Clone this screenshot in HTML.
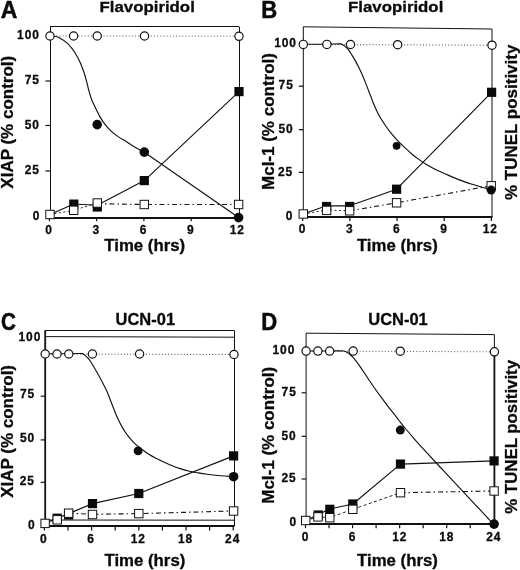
<!DOCTYPE html>
<html><head><meta charset="utf-8"><title>Figure</title>
<style>
html,body{margin:0;padding:0;background:#fff;}
body{width:520px;height:570px;overflow:hidden;}
svg{display:block;will-change:transform;}
svg text{font-family:'Liberation Sans', sans-serif;fill:#0a0a0a;}
</style></head>
<body>
<svg width="520" height="570" viewBox="0 0 520 570">
<line x1="50.00" y1="26.50" x2="239.00" y2="26.50" stroke="#111" stroke-width="1" stroke-linecap="butt"/>
<line x1="50.50" y1="26.70" x2="50.50" y2="217.50" stroke="#111" stroke-width="1" stroke-linecap="butt"/>
<line x1="239.50" y1="26.70" x2="239.50" y2="217.50" stroke="#111" stroke-width="1" stroke-linecap="butt"/>
<line x1="49.50" y1="218.00" x2="239.50" y2="218.00" stroke="#111" stroke-width="2" stroke-linecap="butt"/>
<line x1="45.50" y1="81.00" x2="50.00" y2="81.00" stroke="#111" stroke-width="1.2" stroke-linecap="butt"/>
<line x1="45.50" y1="125.50" x2="50.00" y2="125.50" stroke="#111" stroke-width="1.2" stroke-linecap="butt"/>
<line x1="45.50" y1="171.00" x2="50.00" y2="171.00" stroke="#111" stroke-width="1.2" stroke-linecap="butt"/>
<line x1="49.40" y1="217.50" x2="49.40" y2="221.20" stroke="#111" stroke-width="1.2" stroke-linecap="butt"/>
<line x1="96.65" y1="217.50" x2="96.65" y2="221.20" stroke="#111" stroke-width="1.2" stroke-linecap="butt"/>
<line x1="143.90" y1="217.50" x2="143.90" y2="221.20" stroke="#111" stroke-width="1.2" stroke-linecap="butt"/>
<line x1="191.15" y1="217.50" x2="191.15" y2="221.20" stroke="#111" stroke-width="1.2" stroke-linecap="butt"/>
<line x1="238.40" y1="217.50" x2="238.40" y2="221.20" stroke="#111" stroke-width="1.2" stroke-linecap="butt"/>
<line x1="50.00" y1="36.00" x2="239.00" y2="36.20" stroke="#555" stroke-width="1" stroke-dasharray="1 2.15" stroke-linecap="butt"/>
<path d="M50.20,36.00 C50.97,36.05 53.13,35.93 54.80,36.30 C56.47,36.67 58.18,37.10 60.20,38.20 C62.22,39.30 64.88,41.12 66.90,42.90 C68.92,44.68 70.73,46.88 72.30,48.90 C73.87,50.92 74.95,52.63 76.30,55.00 C77.65,57.37 79.05,59.97 80.40,63.10 C81.75,66.23 83.28,70.43 84.40,73.80 C85.52,77.17 86.38,80.60 87.10,83.30 C87.82,86.00 87.97,87.35 88.70,90.00 C89.43,92.65 90.38,96.25 91.50,99.20 C92.62,102.15 93.98,104.75 95.40,107.70 C96.82,110.65 98.47,114.22 100.00,116.90 C101.53,119.58 102.80,121.48 104.60,123.80 C106.40,126.12 108.48,128.62 110.80,130.80 C113.12,132.98 115.93,135.12 118.50,136.90 C121.07,138.68 123.65,139.88 126.20,141.50 C128.75,143.12 131.25,145.05 133.80,146.60 C136.35,148.15 139.72,149.85 141.50,150.80 C143.28,151.75 144.00,152.05 144.50,152.30" fill="none" stroke="#111" stroke-width="1.15"/>
<line x1="144.30" y1="152.20" x2="238.60" y2="217.50" stroke="#111" stroke-width="1.15" stroke-linecap="butt"/>
<polyline points="50.00,214.50 73.80,204.00 97.30,205.30 144.30,180.60 239.00,91.60" fill="none" stroke="#111" stroke-width="1.15" stroke-linejoin="round"/>
<polyline points="50.00,214.50 73.70,210.30 97.30,203.00" fill="none" stroke="#222" stroke-width="1" stroke-dasharray="2 2.5" stroke-linejoin="round"/>
<polyline points="97.00,203.70 144.30,204.50 238.60,204.50" fill="none" stroke="#1a1a1a" stroke-width="1.15" stroke-dasharray="5 3 1.5 3" stroke-linejoin="round"/>
<rect x="69.20" y="199.50" width="9.2" height="9.2" fill="#0a0a0a"/>
<rect x="69.50" y="206.10" width="8.4" height="8.4" fill="#fff" stroke="#111" stroke-width="1"/>
<rect x="92.70" y="202.40" width="9.2" height="9.2" fill="#0a0a0a"/>
<rect x="93.10" y="198.80" width="8.4" height="8.4" fill="#fff" stroke="#111" stroke-width="1"/>
<circle cx="97.20" cy="124.60" r="4.8" fill="#0a0a0a"/>
<circle cx="144.30" cy="152.10" r="4.8" fill="#0a0a0a"/>
<rect x="139.70" y="176.00" width="9.2" height="9.2" fill="#0a0a0a"/>
<rect x="140.10" y="200.30" width="8.4" height="8.4" fill="#fff" stroke="#111" stroke-width="1"/>
<rect x="234.40" y="87.00" width="9.2" height="9.2" fill="#0a0a0a"/>
<circle cx="238.60" cy="217.60" r="4.8" fill="#0a0a0a"/>
<rect x="234.40" y="200.30" width="8.4" height="8.4" fill="#fff" stroke="#111" stroke-width="1"/>
<rect x="45.80" y="210.30" width="8.4" height="8.4" fill="#fff" stroke="#111" stroke-width="1"/>
<circle cx="50.00" cy="36.00" r="4.15" fill="#fff" stroke="#111" stroke-width="1.2"/>
<circle cx="73.62" cy="36.00" r="4.15" fill="#fff" stroke="#111" stroke-width="1.2"/>
<circle cx="97.25" cy="36.00" r="4.15" fill="#fff" stroke="#111" stroke-width="1.2"/>
<circle cx="144.50" cy="36.00" r="4.15" fill="#fff" stroke="#111" stroke-width="1.2"/>
<circle cx="239.00" cy="36.30" r="4.15" fill="#fff" stroke="#111" stroke-width="1.2"/>
<text transform="translate(39.82,38.60) scale(0.92,1)" font-size="13" font-weight="bold" text-anchor="end" letter-spacing="1.0" stroke="#0a0a0a" stroke-width="0.3" stroke-linejoin="round">100</text>
<text transform="translate(39.82,84.00) scale(0.92,1)" font-size="13" font-weight="bold" text-anchor="end" letter-spacing="1.0" stroke="#0a0a0a" stroke-width="0.3" stroke-linejoin="round">75</text>
<text transform="translate(39.82,129.30) scale(0.92,1)" font-size="13" font-weight="bold" text-anchor="end" letter-spacing="1.0" stroke="#0a0a0a" stroke-width="0.3" stroke-linejoin="round">50</text>
<text transform="translate(39.82,174.40) scale(0.92,1)" font-size="13" font-weight="bold" text-anchor="end" letter-spacing="1.0" stroke="#0a0a0a" stroke-width="0.3" stroke-linejoin="round">25</text>
<text transform="translate(40.22,220.20) scale(0.92,1)" font-size="13" font-weight="bold" text-anchor="end" letter-spacing="1.0" stroke="#0a0a0a" stroke-width="0.3" stroke-linejoin="round">0</text>
<text transform="translate(48.96,233.70) scale(0.92,1)" font-size="13" font-weight="bold" text-anchor="middle" letter-spacing="1.0" stroke="#0a0a0a" stroke-width="0.3" stroke-linejoin="round">0</text>
<text transform="translate(96.21,233.70) scale(0.92,1)" font-size="13" font-weight="bold" text-anchor="middle" letter-spacing="1.0" stroke="#0a0a0a" stroke-width="0.3" stroke-linejoin="round">3</text>
<text transform="translate(143.46,233.70) scale(0.92,1)" font-size="13" font-weight="bold" text-anchor="middle" letter-spacing="1.0" stroke="#0a0a0a" stroke-width="0.3" stroke-linejoin="round">6</text>
<text transform="translate(190.71,233.70) scale(0.92,1)" font-size="13" font-weight="bold" text-anchor="middle" letter-spacing="1.0" stroke="#0a0a0a" stroke-width="0.3" stroke-linejoin="round">9</text>
<text transform="translate(237.36,233.70) scale(0.92,1)" font-size="13" font-weight="bold" text-anchor="middle" letter-spacing="1.0" stroke="#0a0a0a" stroke-width="0.3" stroke-linejoin="round">12</text>
<text transform="translate(144.70,250.60) scale(1.07,1)" font-size="15.7" font-weight="bold" text-anchor="middle" stroke="#0a0a0a" stroke-width="0.3" stroke-linejoin="round">Time (hrs)</text>
<text transform="translate(147.20,12.40) scale(1.085,1)" font-size="15.5" font-weight="bold" text-anchor="middle" stroke="#0a0a0a" stroke-width="0.3" stroke-linejoin="round">Flavopiridol</text>
<text transform="translate(0.80,18.40) scale(1.0,1)" font-size="23" font-weight="bold" text-anchor="start" stroke="#0a0a0a" stroke-width="0.5" stroke-linejoin="round">A</text>
<text transform="translate(13.20,122.20) rotate(-90) scale(1.0,1)" font-size="17" font-weight="bold" text-anchor="middle" stroke="#0a0a0a" stroke-width="0.3" stroke-linejoin="round">XIAP (% control)</text>
<polyline points="303.3,217.3 303.3,26.8 492.0,29.0 492.0,217.3" fill="none" stroke="#111" stroke-width="1"/>
<line x1="302.80" y1="217.00" x2="492.50" y2="217.00" stroke="#111" stroke-width="2" stroke-linecap="butt"/>
<line x1="298.80" y1="86.20" x2="303.30" y2="86.20" stroke="#111" stroke-width="1.2" stroke-linecap="butt"/>
<line x1="298.80" y1="129.70" x2="303.30" y2="129.70" stroke="#111" stroke-width="1.2" stroke-linecap="butt"/>
<line x1="298.80" y1="172.40" x2="303.30" y2="172.40" stroke="#111" stroke-width="1.2" stroke-linecap="butt"/>
<line x1="302.70" y1="217.30" x2="302.70" y2="221.00" stroke="#111" stroke-width="1.2" stroke-linecap="butt"/>
<line x1="349.88" y1="217.30" x2="349.88" y2="221.00" stroke="#111" stroke-width="1.2" stroke-linecap="butt"/>
<line x1="397.05" y1="217.30" x2="397.05" y2="221.00" stroke="#111" stroke-width="1.2" stroke-linecap="butt"/>
<line x1="444.23" y1="217.30" x2="444.23" y2="221.00" stroke="#111" stroke-width="1.2" stroke-linecap="butt"/>
<line x1="491.40" y1="217.30" x2="491.40" y2="221.00" stroke="#111" stroke-width="1.2" stroke-linecap="butt"/>
<line x1="303.30" y1="44.50" x2="492.00" y2="45.20" stroke="#444" stroke-width="1" stroke-dasharray="1 2.15" stroke-linecap="butt"/>
<path d="M303.40,44.30 C306.17,44.28 314.73,44.25 320.00,44.20 C325.27,44.15 331.60,44.05 335.00,44.00 C338.40,43.95 339.05,43.72 340.40,43.90 C341.75,44.08 342.20,44.57 343.10,45.10 C344.00,45.63 344.90,46.32 345.80,47.10 C346.70,47.88 347.50,48.50 348.50,49.80 C349.50,51.10 350.68,53.10 351.80,54.90 C352.92,56.70 354.07,58.58 355.20,60.60 C356.33,62.62 357.48,64.77 358.60,67.00 C359.72,69.23 360.78,71.48 361.90,74.00 C363.02,76.52 364.18,79.30 365.30,82.10 C366.42,84.90 367.65,88.35 368.60,90.80 C369.55,93.25 370.22,94.77 371.00,96.80 C371.78,98.83 372.05,100.05 373.30,103.00 C374.55,105.95 376.52,110.80 378.50,114.50 C380.48,118.20 382.97,121.93 385.20,125.20 C387.43,128.47 389.67,131.37 391.90,134.10 C394.13,136.83 396.35,139.25 398.60,141.60 C400.85,143.95 403.15,146.10 405.40,148.20 C407.65,150.30 409.87,152.33 412.10,154.20 C414.33,156.07 416.55,157.77 418.80,159.40 C421.05,161.03 422.90,162.37 425.60,164.00 C428.30,165.63 431.07,167.27 435.00,169.20 C438.93,171.13 444.90,173.73 449.20,175.60 C453.50,177.47 456.95,178.95 460.80,180.40 C464.65,181.85 468.47,183.07 472.30,184.30 C476.13,185.53 480.68,186.88 483.80,187.80 C486.92,188.72 489.80,189.47 491.00,189.80" fill="none" stroke="#111" stroke-width="1.15"/>
<polyline points="303.30,214.00 326.50,205.80 349.60,205.80 396.60,189.20 491.60,92.30" fill="none" stroke="#111" stroke-width="1.15" stroke-linejoin="round"/>
<polyline points="303.30,214.00 326.50,210.00 349.60,210.80" fill="none" stroke="#222" stroke-width="1" stroke-dasharray="2 2.5" stroke-linejoin="round"/>
<polyline points="349.60,210.80 396.60,202.80 491.20,185.70" fill="none" stroke="#1a1a1a" stroke-width="1.15" stroke-dasharray="5 3 1.5 3" stroke-linejoin="round"/>
<rect x="322.00" y="201.90" width="9.2" height="9.2" fill="#0a0a0a"/>
<rect x="322.40" y="206.20" width="8.4" height="8.4" fill="#fff" stroke="#111" stroke-width="1"/>
<rect x="345.00" y="201.90" width="9.2" height="9.2" fill="#0a0a0a"/>
<rect x="345.40" y="206.60" width="8.4" height="8.4" fill="#fff" stroke="#111" stroke-width="1"/>
<circle cx="396.60" cy="145.80" r="3.9" fill="#0a0a0a"/>
<rect x="392.00" y="184.60" width="9.2" height="9.2" fill="#0a0a0a"/>
<rect x="392.40" y="198.60" width="8.4" height="8.4" fill="#fff" stroke="#111" stroke-width="1"/>
<rect x="487.00" y="87.70" width="9.2" height="9.2" fill="#0a0a0a"/>
<rect x="487.00" y="181.60" width="8.4" height="8.4" fill="#fff" stroke="#111" stroke-width="1"/>
<circle cx="491.20" cy="190.10" r="4.5" fill="#0a0a0a"/>
<rect x="299.10" y="209.80" width="8.4" height="8.4" fill="#fff" stroke="#111" stroke-width="1"/>
<circle cx="303.30" cy="44.40" r="4.15" fill="#fff" stroke="#111" stroke-width="1.2"/>
<circle cx="326.89" cy="44.40" r="4.15" fill="#fff" stroke="#111" stroke-width="1.2"/>
<circle cx="350.48" cy="44.50" r="4.15" fill="#fff" stroke="#111" stroke-width="1.2"/>
<circle cx="397.65" cy="44.70" r="4.15" fill="#fff" stroke="#111" stroke-width="1.2"/>
<circle cx="492.00" cy="45.20" r="4.15" fill="#fff" stroke="#111" stroke-width="1.2"/>
<text transform="translate(296.92,47.30) scale(0.92,1)" font-size="13" font-weight="bold" text-anchor="end" letter-spacing="1.0" stroke="#0a0a0a" stroke-width="0.3" stroke-linejoin="round">100</text>
<text transform="translate(293.72,89.10) scale(0.92,1)" font-size="13" font-weight="bold" text-anchor="end" letter-spacing="1.0" stroke="#0a0a0a" stroke-width="0.3" stroke-linejoin="round">75</text>
<text transform="translate(293.52,133.40) scale(0.92,1)" font-size="13" font-weight="bold" text-anchor="end" letter-spacing="1.0" stroke="#0a0a0a" stroke-width="0.3" stroke-linejoin="round">50</text>
<text transform="translate(293.12,175.90) scale(0.92,1)" font-size="13" font-weight="bold" text-anchor="end" letter-spacing="1.0" stroke="#0a0a0a" stroke-width="0.3" stroke-linejoin="round">25</text>
<text transform="translate(293.42,219.60) scale(0.92,1)" font-size="13" font-weight="bold" text-anchor="end" letter-spacing="1.0" stroke="#0a0a0a" stroke-width="0.3" stroke-linejoin="round">0</text>
<text transform="translate(302.56,233.40) scale(0.92,1)" font-size="13" font-weight="bold" text-anchor="middle" letter-spacing="1.0" stroke="#0a0a0a" stroke-width="0.3" stroke-linejoin="round">0</text>
<text transform="translate(349.74,233.40) scale(0.92,1)" font-size="13" font-weight="bold" text-anchor="middle" letter-spacing="1.0" stroke="#0a0a0a" stroke-width="0.3" stroke-linejoin="round">3</text>
<text transform="translate(396.91,233.40) scale(0.92,1)" font-size="13" font-weight="bold" text-anchor="middle" letter-spacing="1.0" stroke="#0a0a0a" stroke-width="0.3" stroke-linejoin="round">6</text>
<text transform="translate(444.09,233.40) scale(0.92,1)" font-size="13" font-weight="bold" text-anchor="middle" letter-spacing="1.0" stroke="#0a0a0a" stroke-width="0.3" stroke-linejoin="round">9</text>
<text transform="translate(490.26,233.40) scale(0.92,1)" font-size="13" font-weight="bold" text-anchor="middle" letter-spacing="1.0" stroke="#0a0a0a" stroke-width="0.3" stroke-linejoin="round">12</text>
<text transform="translate(397.30,250.60) scale(1.07,1)" font-size="15.7" font-weight="bold" text-anchor="middle" stroke="#0a0a0a" stroke-width="0.3" stroke-linejoin="round">Time (hrs)</text>
<text transform="translate(395.70,12.30) scale(1.085,1)" font-size="15.5" font-weight="bold" text-anchor="middle" stroke="#0a0a0a" stroke-width="0.3" stroke-linejoin="round">Flavopiridol</text>
<text transform="translate(261.30,18.40) scale(0.96,1)" font-size="23" font-weight="bold" text-anchor="start" stroke="#0a0a0a" stroke-width="0.5" stroke-linejoin="round">B</text>
<text transform="translate(274.00,121.50) rotate(-90) scale(1.0,1)" font-size="17" font-weight="bold" text-anchor="middle" stroke="#0a0a0a" stroke-width="0.3" stroke-linejoin="round">Mcl-1 (% control)</text>
<text transform="translate(516.90,122.30) rotate(-90) scale(1.03,1)" font-size="16.5" font-weight="bold" text-anchor="middle" stroke="#0a0a0a" stroke-width="0.3" stroke-linejoin="round">% TUNEL positivity</text>
<line x1="45.20" y1="330.50" x2="234.00" y2="330.50" stroke="#111" stroke-width="1" stroke-linecap="butt"/>
<line x1="45.20" y1="330.30" x2="45.20" y2="526.00" stroke="#111" stroke-width="1.8" stroke-linecap="butt"/>
<line x1="234.50" y1="330.30" x2="234.50" y2="526.00" stroke="#111" stroke-width="1" stroke-linecap="butt"/>
<line x1="44.70" y1="526.00" x2="234.50" y2="526.00" stroke="#111" stroke-width="2" stroke-linecap="butt"/>
<line x1="45.20" y1="336.60" x2="234.00" y2="337.20" stroke="#111" stroke-width="1" stroke-linecap="butt"/>
<line x1="45.20" y1="520.00" x2="234.00" y2="520.20" stroke="#111" stroke-width="1" stroke-linecap="butt"/>
<line x1="40.70" y1="396.20" x2="45.20" y2="396.20" stroke="#111" stroke-width="1.2" stroke-linecap="butt"/>
<line x1="40.70" y1="439.90" x2="45.20" y2="439.90" stroke="#111" stroke-width="1.2" stroke-linecap="butt"/>
<line x1="40.70" y1="482.30" x2="45.20" y2="482.30" stroke="#111" stroke-width="1.2" stroke-linecap="butt"/>
<line x1="44.40" y1="526.00" x2="44.40" y2="530.50" stroke="#111" stroke-width="1.2" stroke-linecap="butt"/>
<line x1="68.00" y1="526.00" x2="68.00" y2="530.50" stroke="#111" stroke-width="1.2" stroke-linecap="butt"/>
<line x1="91.60" y1="526.00" x2="91.60" y2="530.50" stroke="#111" stroke-width="1.2" stroke-linecap="butt"/>
<line x1="115.20" y1="526.00" x2="115.20" y2="530.50" stroke="#111" stroke-width="1.2" stroke-linecap="butt"/>
<line x1="138.80" y1="526.00" x2="138.80" y2="530.50" stroke="#111" stroke-width="1.2" stroke-linecap="butt"/>
<line x1="162.40" y1="526.00" x2="162.40" y2="530.50" stroke="#111" stroke-width="1.2" stroke-linecap="butt"/>
<line x1="186.00" y1="526.00" x2="186.00" y2="530.50" stroke="#111" stroke-width="1.2" stroke-linecap="butt"/>
<line x1="209.60" y1="526.00" x2="209.60" y2="530.50" stroke="#111" stroke-width="1.2" stroke-linecap="butt"/>
<line x1="233.20" y1="526.00" x2="233.20" y2="530.50" stroke="#111" stroke-width="1.2" stroke-linecap="butt"/>
<line x1="45.20" y1="354.00" x2="234.00" y2="354.50" stroke="#444" stroke-width="1" stroke-dasharray="1 2.15" stroke-linecap="butt"/>
<path d="M45.20,353.80 C48.50,353.78 59.37,353.75 65.00,353.70 C70.63,353.65 76.13,353.52 79.00,353.50 C81.87,353.48 81.23,353.33 82.20,353.60 C83.17,353.87 83.83,354.33 84.80,355.10 C85.77,355.87 86.93,356.97 88.00,358.20 C89.07,359.43 89.78,360.28 91.20,362.50 C92.62,364.72 94.75,368.42 96.50,371.50 C98.25,374.58 99.95,377.65 101.70,381.00 C103.45,384.35 105.37,387.93 107.00,391.60 C108.63,395.27 110.13,399.52 111.50,403.00 C112.87,406.48 114.03,409.67 115.20,412.50 C116.37,415.33 117.38,417.65 118.50,420.00 C119.62,422.35 120.78,424.60 121.90,426.60 C123.02,428.60 124.08,430.32 125.20,432.00 C126.32,433.68 127.47,435.27 128.60,436.70 C129.73,438.13 130.87,439.37 132.00,440.60 C133.13,441.83 133.72,442.62 135.40,444.10 C137.08,445.58 139.87,447.82 142.10,449.50 C144.33,451.18 146.55,452.78 148.80,454.20 C151.05,455.62 153.12,456.70 155.60,458.00 C158.08,459.30 160.92,460.70 163.70,462.00 C166.48,463.30 169.42,464.65 172.30,465.80 C175.18,466.95 178.12,468.00 181.00,468.90 C183.88,469.80 186.72,470.53 189.60,471.20 C192.48,471.87 195.42,472.38 198.30,472.90 C201.18,473.42 204.02,473.90 206.90,474.30 C209.78,474.70 211.85,474.95 215.60,475.30 C219.35,475.65 226.42,476.18 229.40,476.40 C232.38,476.62 232.82,476.57 233.50,476.60" fill="none" stroke="#111" stroke-width="1.15"/>
<polyline points="45.20,523.40 57.20,518.20 68.60,513.60 92.50,503.60 138.80,493.50 233.60,455.90" fill="none" stroke="#111" stroke-width="1.15" stroke-linejoin="round"/>
<polyline points="68.60,513.20 92.50,514.30 138.80,513.60 233.60,511.00" fill="none" stroke="#1a1a1a" stroke-width="1.15" stroke-dasharray="5 3 1.5 3" stroke-linejoin="round"/>
<rect x="52.60" y="513.60" width="9.2" height="9.2" fill="#0a0a0a"/>
<rect x="53.00" y="515.60" width="8.4" height="8.4" fill="#fff" stroke="#111" stroke-width="1"/>
<rect x="64.00" y="510.40" width="9.2" height="9.2" fill="#0a0a0a"/>
<rect x="64.40" y="509.00" width="8.4" height="8.4" fill="#fff" stroke="#111" stroke-width="1"/>
<rect x="87.90" y="499.00" width="9.2" height="9.2" fill="#0a0a0a"/>
<rect x="88.30" y="510.30" width="8.4" height="8.4" fill="#fff" stroke="#111" stroke-width="1"/>
<circle cx="138.10" cy="450.90" r="4.4" fill="#0a0a0a"/>
<rect x="134.20" y="488.90" width="9.2" height="9.2" fill="#0a0a0a"/>
<rect x="134.60" y="509.40" width="8.4" height="8.4" fill="#fff" stroke="#111" stroke-width="1"/>
<rect x="229.00" y="451.30" width="9.2" height="9.2" fill="#0a0a0a"/>
<circle cx="233.60" cy="476.70" r="4.8" fill="#0a0a0a"/>
<rect x="229.40" y="506.80" width="8.4" height="8.4" fill="#fff" stroke="#111" stroke-width="1"/>
<rect x="40.90" y="519.20" width="8.4" height="8.4" fill="#fff" stroke="#111" stroke-width="1"/>
<circle cx="45.20" cy="354.00" r="4.15" fill="#fff" stroke="#111" stroke-width="1.2"/>
<circle cx="57.00" cy="354.00" r="4.15" fill="#fff" stroke="#111" stroke-width="1.2"/>
<circle cx="68.80" cy="354.00" r="4.15" fill="#fff" stroke="#111" stroke-width="1.2"/>
<circle cx="92.40" cy="354.00" r="4.15" fill="#fff" stroke="#111" stroke-width="1.2"/>
<circle cx="139.60" cy="354.00" r="4.15" fill="#fff" stroke="#111" stroke-width="1.2"/>
<circle cx="234.00" cy="354.50" r="4.15" fill="#fff" stroke="#111" stroke-width="1.2"/>
<text transform="translate(41.22,341.00) scale(0.92,1)" font-size="13" font-weight="bold" text-anchor="end" letter-spacing="1.0" stroke="#0a0a0a" stroke-width="0.3" stroke-linejoin="round">100</text>
<text transform="translate(35.02,397.90) scale(0.92,1)" font-size="13" font-weight="bold" text-anchor="end" letter-spacing="1.0" stroke="#0a0a0a" stroke-width="0.3" stroke-linejoin="round">75</text>
<text transform="translate(35.02,441.90) scale(0.92,1)" font-size="13" font-weight="bold" text-anchor="end" letter-spacing="1.0" stroke="#0a0a0a" stroke-width="0.3" stroke-linejoin="round">50</text>
<text transform="translate(34.82,484.80) scale(0.92,1)" font-size="13" font-weight="bold" text-anchor="end" letter-spacing="1.0" stroke="#0a0a0a" stroke-width="0.3" stroke-linejoin="round">25</text>
<text transform="translate(35.52,529.00) scale(0.92,1)" font-size="13" font-weight="bold" text-anchor="end" letter-spacing="1.0" stroke="#0a0a0a" stroke-width="0.3" stroke-linejoin="round">0</text>
<text transform="translate(43.86,543.00) scale(0.92,1)" font-size="13" font-weight="bold" text-anchor="middle" letter-spacing="1.0" stroke="#0a0a0a" stroke-width="0.3" stroke-linejoin="round">0</text>
<text transform="translate(91.06,543.00) scale(0.92,1)" font-size="13" font-weight="bold" text-anchor="middle" letter-spacing="1.0" stroke="#0a0a0a" stroke-width="0.3" stroke-linejoin="round">6</text>
<text transform="translate(138.26,543.00) scale(0.92,1)" font-size="13" font-weight="bold" text-anchor="middle" letter-spacing="1.0" stroke="#0a0a0a" stroke-width="0.3" stroke-linejoin="round">12</text>
<text transform="translate(185.46,543.00) scale(0.92,1)" font-size="13" font-weight="bold" text-anchor="middle" letter-spacing="1.0" stroke="#0a0a0a" stroke-width="0.3" stroke-linejoin="round">18</text>
<text transform="translate(232.66,543.00) scale(0.92,1)" font-size="13" font-weight="bold" text-anchor="middle" letter-spacing="1.0" stroke="#0a0a0a" stroke-width="0.3" stroke-linejoin="round">24</text>
<text transform="translate(144.90,565.60) scale(1.07,1)" font-size="15.7" font-weight="bold" text-anchor="middle" stroke="#0a0a0a" stroke-width="0.3" stroke-linejoin="round">Time (hrs)</text>
<text transform="translate(145.30,325.40) scale(0.97,1)" font-size="17" font-weight="bold" text-anchor="middle" stroke="#0a0a0a" stroke-width="0.3" stroke-linejoin="round">UCN-01</text>
<text transform="translate(0.90,329.60) scale(0.9,1)" font-size="23" font-weight="bold" text-anchor="start" stroke="#0a0a0a" stroke-width="0.5" stroke-linejoin="round">C</text>
<text transform="translate(12.90,431.40) rotate(-90) scale(1.0,1)" font-size="17" font-weight="bold" text-anchor="middle" stroke="#0a0a0a" stroke-width="0.3" stroke-linejoin="round">XIAP (% control)</text>
<polyline points="306.1,524.0 306.1,333.2 494.4,334.59999999999997 494.4,352" fill="none" stroke="#111" stroke-width="1"/>
<line x1="494.40" y1="352.00" x2="494.40" y2="524.00" stroke="#111" stroke-width="1.8" stroke-linecap="butt"/>
<line x1="305.60" y1="524.00" x2="494.90" y2="524.00" stroke="#111" stroke-width="2" stroke-linecap="butt"/>
<line x1="301.60" y1="392.80" x2="306.10" y2="392.80" stroke="#111" stroke-width="1.2" stroke-linecap="butt"/>
<line x1="301.60" y1="436.30" x2="306.10" y2="436.30" stroke="#111" stroke-width="1.2" stroke-linecap="butt"/>
<line x1="301.60" y1="479.00" x2="306.10" y2="479.00" stroke="#111" stroke-width="1.2" stroke-linecap="butt"/>
<line x1="305.50" y1="524.00" x2="305.50" y2="528.20" stroke="#111" stroke-width="1.2" stroke-linecap="butt"/>
<line x1="329.04" y1="524.00" x2="329.04" y2="528.20" stroke="#111" stroke-width="1.2" stroke-linecap="butt"/>
<line x1="352.57" y1="524.00" x2="352.57" y2="528.20" stroke="#111" stroke-width="1.2" stroke-linecap="butt"/>
<line x1="376.11" y1="524.00" x2="376.11" y2="528.20" stroke="#111" stroke-width="1.2" stroke-linecap="butt"/>
<line x1="399.65" y1="524.00" x2="399.65" y2="528.20" stroke="#111" stroke-width="1.2" stroke-linecap="butt"/>
<line x1="423.19" y1="524.00" x2="423.19" y2="528.20" stroke="#111" stroke-width="1.2" stroke-linecap="butt"/>
<line x1="446.72" y1="524.00" x2="446.72" y2="528.20" stroke="#111" stroke-width="1.2" stroke-linecap="butt"/>
<line x1="470.26" y1="524.00" x2="470.26" y2="528.20" stroke="#111" stroke-width="1.2" stroke-linecap="butt"/>
<line x1="493.80" y1="524.00" x2="493.80" y2="528.20" stroke="#111" stroke-width="1.2" stroke-linecap="butt"/>
<line x1="306.10" y1="351.10" x2="494.40" y2="351.80" stroke="#555" stroke-width="1" stroke-dasharray="1 2.15" stroke-linecap="butt"/>
<path d="M306.00,351.00 C309.17,351.00 319.67,351.02 325.00,351.00 C330.33,350.98 334.90,350.90 338.00,350.90 C341.10,350.90 341.90,350.67 343.60,351.00 C345.30,351.33 346.78,352.00 348.20,352.90 C349.62,353.80 350.78,355.03 352.10,356.40 C353.42,357.77 354.57,359.12 356.10,361.10 C357.63,363.08 359.33,365.45 361.30,368.30 C363.27,371.15 365.70,374.92 367.90,378.20 C370.10,381.48 372.30,384.83 374.50,388.00 C376.70,391.17 378.92,394.23 381.10,397.20 C383.28,400.17 385.42,402.97 387.60,405.80 C389.78,408.63 392.30,411.75 394.20,414.20 C396.10,416.65 397.33,418.37 399.00,420.50 C400.67,422.63 401.73,424.03 404.20,427.00 C406.67,429.97 410.58,434.60 413.80,438.30 C417.02,442.00 419.13,444.42 423.50,449.20 C427.87,453.98 433.92,460.48 440.00,467.00 C446.08,473.52 451.08,478.78 460.00,488.30 C468.92,497.82 487.92,518.13 493.50,524.10" fill="none" stroke="#111" stroke-width="1.15"/>
<polyline points="305.80,520.60 318.20,514.50 329.80,509.00 352.80,504.00 400.50,464.10 494.10,460.90" fill="none" stroke="#111" stroke-width="1.15" stroke-linejoin="round"/>
<polyline points="305.80,520.60 318.00,516.90 329.80,517.70 352.80,509.30 400.50,492.70" fill="none" stroke="#222" stroke-width="1" stroke-dasharray="3 2.5" stroke-linejoin="round"/>
<polyline points="400.50,492.70 494.10,491.00" fill="none" stroke="#1a1a1a" stroke-width="1.15" stroke-dasharray="5 3 1.5 3" stroke-linejoin="round"/>
<rect x="313.60" y="510.40" width="9.2" height="9.2" fill="#0a0a0a"/>
<rect x="313.80" y="512.70" width="8.4" height="8.4" fill="#fff" stroke="#111" stroke-width="1"/>
<rect x="325.20" y="504.70" width="9.2" height="9.2" fill="#0a0a0a"/>
<rect x="325.60" y="513.50" width="8.4" height="8.4" fill="#fff" stroke="#111" stroke-width="1"/>
<rect x="348.20" y="499.40" width="9.2" height="9.2" fill="#0a0a0a"/>
<rect x="348.60" y="505.10" width="8.4" height="8.4" fill="#fff" stroke="#111" stroke-width="1"/>
<circle cx="400.30" cy="430.10" r="4.5" fill="#0a0a0a"/>
<rect x="395.90" y="459.50" width="9.2" height="9.2" fill="#0a0a0a"/>
<rect x="396.30" y="488.50" width="8.4" height="8.4" fill="#fff" stroke="#111" stroke-width="1"/>
<rect x="489.50" y="456.30" width="9.2" height="9.2" fill="#0a0a0a"/>
<rect x="489.90" y="486.80" width="8.4" height="8.4" fill="#fff" stroke="#111" stroke-width="1"/>
<circle cx="494.10" cy="524.10" r="4.8" fill="#0a0a0a"/>
<rect x="301.50" y="516.30" width="8.4" height="8.4" fill="#fff" stroke="#111" stroke-width="1"/>
<circle cx="306.10" cy="351.10" r="4.15" fill="#fff" stroke="#111" stroke-width="1.2"/>
<circle cx="317.87" cy="351.10" r="4.15" fill="#fff" stroke="#111" stroke-width="1.2"/>
<circle cx="329.64" cy="351.10" r="4.15" fill="#fff" stroke="#111" stroke-width="1.2"/>
<circle cx="353.18" cy="351.10" r="4.15" fill="#fff" stroke="#111" stroke-width="1.2"/>
<circle cx="400.25" cy="351.20" r="4.15" fill="#fff" stroke="#111" stroke-width="1.2"/>
<circle cx="494.40" cy="351.80" r="4.15" fill="#fff" stroke="#111" stroke-width="1.2"/>
<text transform="translate(295.22,353.50) scale(0.92,1)" font-size="13" font-weight="bold" text-anchor="end" letter-spacing="1.0" stroke="#0a0a0a" stroke-width="0.3" stroke-linejoin="round">100</text>
<text transform="translate(296.72,396.00) scale(0.92,1)" font-size="13" font-weight="bold" text-anchor="end" letter-spacing="1.0" stroke="#0a0a0a" stroke-width="0.3" stroke-linejoin="round">75</text>
<text transform="translate(296.52,439.60) scale(0.92,1)" font-size="13" font-weight="bold" text-anchor="end" letter-spacing="1.0" stroke="#0a0a0a" stroke-width="0.3" stroke-linejoin="round">50</text>
<text transform="translate(296.52,482.40) scale(0.92,1)" font-size="13" font-weight="bold" text-anchor="end" letter-spacing="1.0" stroke="#0a0a0a" stroke-width="0.3" stroke-linejoin="round">25</text>
<text transform="translate(297.12,526.40) scale(0.92,1)" font-size="13" font-weight="bold" text-anchor="end" letter-spacing="1.0" stroke="#0a0a0a" stroke-width="0.3" stroke-linejoin="round">0</text>
<text transform="translate(305.56,540.80) scale(0.92,1)" font-size="13" font-weight="bold" text-anchor="middle" letter-spacing="1.0" stroke="#0a0a0a" stroke-width="0.3" stroke-linejoin="round">0</text>
<text transform="translate(352.63,540.80) scale(0.92,1)" font-size="13" font-weight="bold" text-anchor="middle" letter-spacing="1.0" stroke="#0a0a0a" stroke-width="0.3" stroke-linejoin="round">6</text>
<text transform="translate(399.71,540.80) scale(0.92,1)" font-size="13" font-weight="bold" text-anchor="middle" letter-spacing="1.0" stroke="#0a0a0a" stroke-width="0.3" stroke-linejoin="round">12</text>
<text transform="translate(446.78,540.80) scale(0.92,1)" font-size="13" font-weight="bold" text-anchor="middle" letter-spacing="1.0" stroke="#0a0a0a" stroke-width="0.3" stroke-linejoin="round">18</text>
<text transform="translate(493.86,540.80) scale(0.92,1)" font-size="13" font-weight="bold" text-anchor="middle" letter-spacing="1.0" stroke="#0a0a0a" stroke-width="0.3" stroke-linejoin="round">24</text>
<text transform="translate(397.50,565.60) scale(1.07,1)" font-size="15.7" font-weight="bold" text-anchor="middle" stroke="#0a0a0a" stroke-width="0.3" stroke-linejoin="round">Time (hrs)</text>
<text transform="translate(398.00,324.80) scale(0.97,1)" font-size="17" font-weight="bold" text-anchor="middle" stroke="#0a0a0a" stroke-width="0.3" stroke-linejoin="round">UCN-01</text>
<text transform="translate(261.20,329.50) scale(0.96,1)" font-size="23" font-weight="bold" text-anchor="start" stroke="#0a0a0a" stroke-width="0.5" stroke-linejoin="round">D</text>
<text transform="translate(273.80,435.30) rotate(-90) scale(1.0,1)" font-size="17" font-weight="bold" text-anchor="middle" stroke="#0a0a0a" stroke-width="0.3" stroke-linejoin="round">Mcl-1 (% control)</text>
<text transform="translate(516.80,436.80) rotate(-90) scale(1.019,1)" font-size="16.5" font-weight="bold" text-anchor="middle" stroke="#0a0a0a" stroke-width="0.3" stroke-linejoin="round">% TUNEL positivity</text>
</svg>
</body></html>
